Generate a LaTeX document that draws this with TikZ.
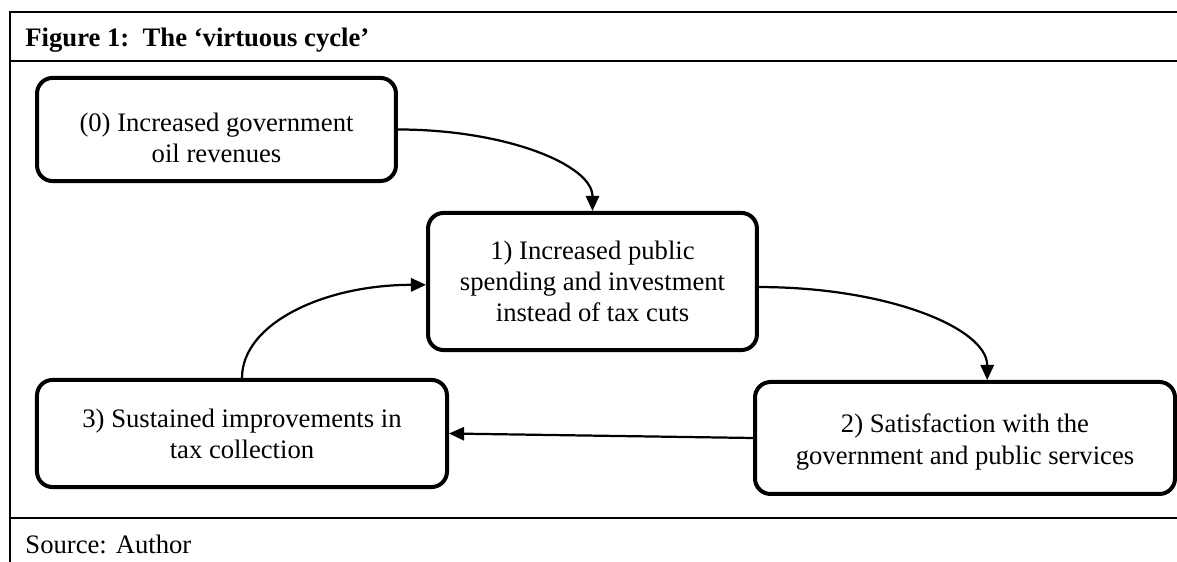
\documentclass[tikz,border=0pt]{standalone}
\usepackage{fontspec}
\setmainfont{Liberation Serif}
\usetikzlibrary{arrows.meta}
\newcommand{\bajar}[1][16pt]{\rule{0pt}{#1}}
\begin{document}
\begin{tikzpicture}[x=0.45pt, y=-0.45pt, font=\fontsize{12}{14}\selectfont,
  caja/.style={draw, line width=1.8pt, rounded corners=7pt, align=center, inner sep=0pt},
  flecha/.style={-{Triangle[length=6.8pt,width=6pt]}, line width=1pt},
  marco/.style={line width=0.9pt}]
  \useasboundingbox (0,0) rectangle (1177,562);

  % Marco
  \draw[marco] (1177,12) -- (10,12) -- (10,562);
  \draw[marco] (10,61) -- (1177,61);
  \draw[marco] (10,518) -- (1177,518);
  \node[anchor=base west, inner sep=0pt, font=\fontsize{12}{14}\selectfont\bfseries] (titulo) at (25,47) {Figure 1:\ \ The ‘virtuous cycle’};
  \node[anchor=base west, inner sep=0pt] (fuente) at (25,554) {Source: Author};

  % Nodos
  \node[caja, minimum width=161.5pt, minimum height=46.4pt] (A) at (216.5,129.5) {\bajar(0) Increased government\\oil revenues};
  \node[caja, minimum width=148pt, minimum height=61.7pt] (B) at (592.5,281.5) {1) Increased public\\spending and investment\\instead of tax cuts};
  \node[caja, minimum width=189pt, minimum height=50.4pt] (C) at (965,438) {\bajar[12pt]2) Satisfaction with the\\government and public services};
  \node[caja, minimum width=184.5pt, minimum height=48.2pt] (D) at (242,433.5) {3) Sustained improvements in\\tax collection};

  % Flechas
  \draw[flecha] (A.east) .. controls +(108,0) and +(0,-46) .. (B.north);
  \draw[flecha] ([yshift=-2.5pt]B.east) .. controls +(128,0) and +(0,-52) .. ([xshift=10pt]C.north);
  \draw[flecha] (C.west) -- (D.east);
  \draw[flecha] (D.north) .. controls +(0,-54) and +(-103,0) .. ([yshift=-1.5pt]B.west);
\end{tikzpicture}
\end{document}
